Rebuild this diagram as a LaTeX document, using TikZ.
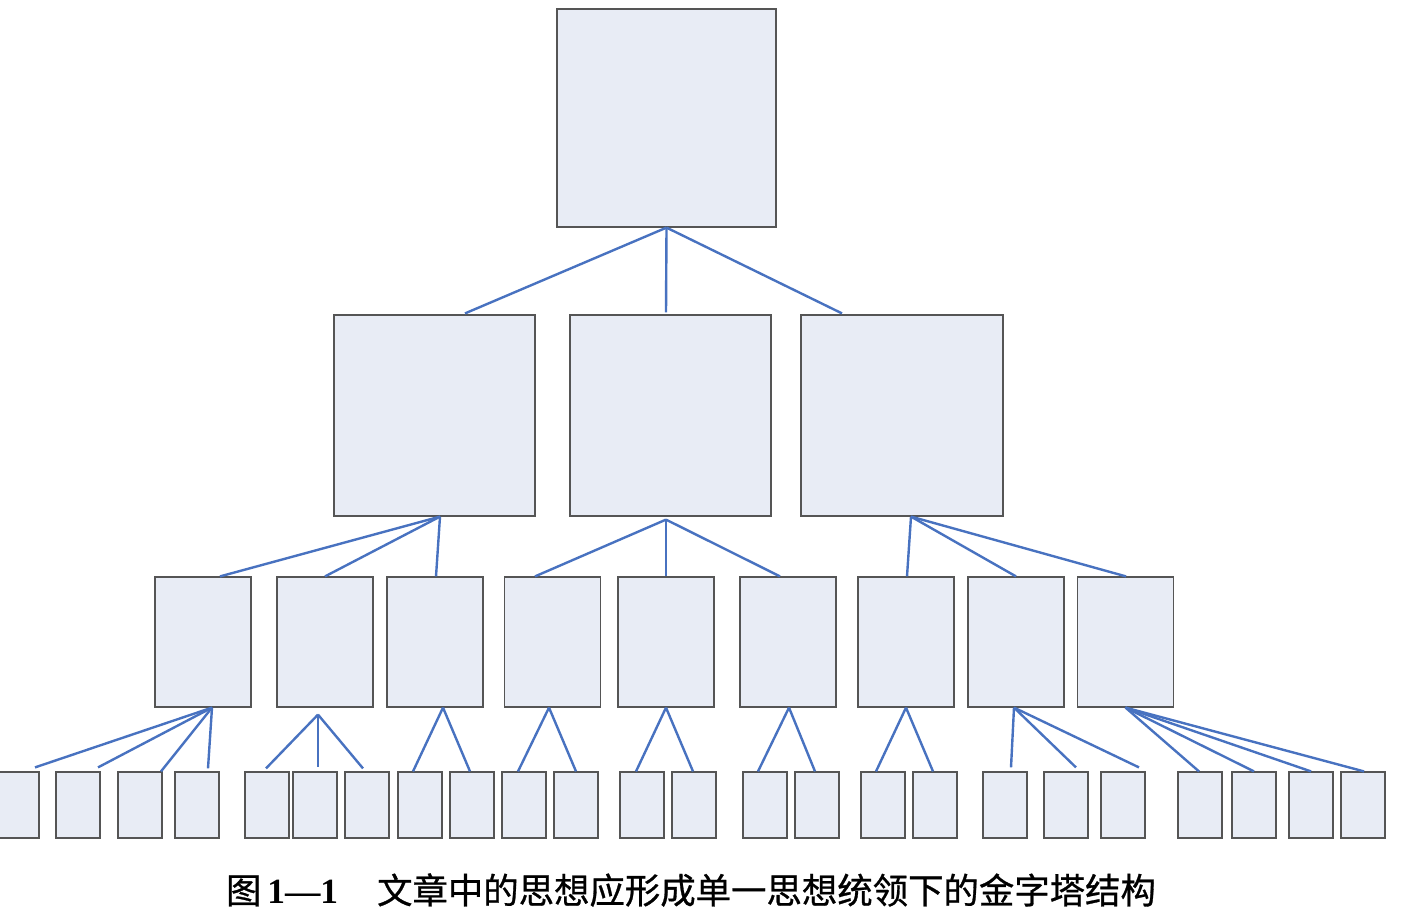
\documentclass[tikz,border=0pt]{standalone}
\usepackage{fontspec}
\usepackage{tikz}
\usetikzlibrary{shapes,backgrounds}
\newfontfamily\cjk[FakeBold=0.8]{Noto Sans CJK SC}
\newfontfamily\capnum{Liberation Serif}
\definecolor{boxfill}{RGB}{232,236,245}
\definecolor{boxline}{RGB}{85,85,85}
\definecolor{linkblue}{RGB}{72,114,192}
\tikzset{
	pbox/.style={draw=boxline, fill=boxfill, line width=1.2pt, inner sep=0pt},
	link/.style={draw=linkblue, line width=2.4pt}
}

\begin{document}
\begin{tikzpicture}[x=1pt, y=-1pt]
			      \useasboundingbox (0,0) rectangle (1420,922);
			      \node[pbox, minimum width=219pt, minimum height=218pt] (top) at (666.5,118) {};
			      \node[pbox, minimum width=201pt, minimum height=201pt] (l2a) at (434.5,415.5) {};
			      \node[pbox, minimum width=201pt, minimum height=201pt] (l2b) at (670.5,415.5) {};
			      \node[pbox, minimum width=202pt, minimum height=201pt] (l2c) at (902,415.5) {};
			      \foreach \x [count=\i] in {203,325,435,552.5,666,788,906,1016,1125.5}
				      \node[pbox, minimum width=96pt, minimum height=130pt] (m\i) at (\x,642) {};
			      \foreach \x [count=\i] in {17,78,140,197,267,315,367,420,472,524,576,642,694,765,817,883,935,1005,1066,1123,1200,1254,1311,1363}
				      \node[pbox, minimum width=44pt, minimum height=66pt] (b\i) at (\x,805) {};
			      \coordinate (hA) at ([xshift=5.5pt]l2a.south);
			      \coordinate (hB) at ([xshift=-4.5pt,yshift=-3pt]l2b.south);
			      \coordinate (hC) at ([xshift=9pt]l2c.south);
			      \coordinate (h1) at ([xshift=9pt]m1.south);
			      \coordinate (h2) at ([xshift=-7pt,yshift=-7pt]m2.south);
			      \coordinate (h3) at ([xshift=8pt]m3.south);
			      \coordinate (h4) at ([xshift=-3.5pt]m4.south);
			      \coordinate (h5) at (m5.south);
			      \coordinate (h6) at ([xshift=1pt]m6.south);
			      \coordinate (h7) at (m7.south);
			      \coordinate (h8) at ([xshift=-2pt]m8.south);
			      \coordinate (h9) at (m9.south);
			      \foreach \h/\c/\dx/\dy in {top.south/l2a/30.5/1, top.south/l2b/-4.5/2, top.south/l2c/-60/1,
				      hA/m1/17/0, hA/m2/0/0, hA/m3/1/0, hB/m4/-17.5/0, hB/m5/0/0, hB/m6/-8/0,
				      hC/m7/1/0, hC/m8/0/0, hC/m9/0.5/0,
				      h1/b1/18/4, h1/b2/20/4, h1/b3/21/0, h1/b4/11/3,
				      h2/b5/-1/3, h2/b6/3/4, h2/b7/-4/3,
				      h3/b8/-7/0, h3/b9/-2/0, h4/b10/-6/0, h4/b11/0/0,
				      h5/b12/-6/0, h5/b13/-1/0, h6/b14/-7/0, h6/b15/-2/0,
				      h7/b16/-7/0, h7/b17/-2/0,
				      h8/b18/6/4, h8/b19/10/4, h8/b20/16/4,
				      h9/b21/-1/0, h9/b22/0/0, h9/b23/0/0, h9/b24/1/0}
				      \draw[link] (\h) -- ([xshift=\dx pt, yshift=\dy pt]\c.north);
			      \node[inner sep=0pt, font=\fontsize{35.4}{36}\selectfont] (caption) at (691,890)
				      {\cjk 图\,{\capnum\bfseries 1—1}\hspace{1.1em}文章中的思想应形成单一思想统领下的金字塔结构};
		      \end{tikzpicture}
\end{document}
